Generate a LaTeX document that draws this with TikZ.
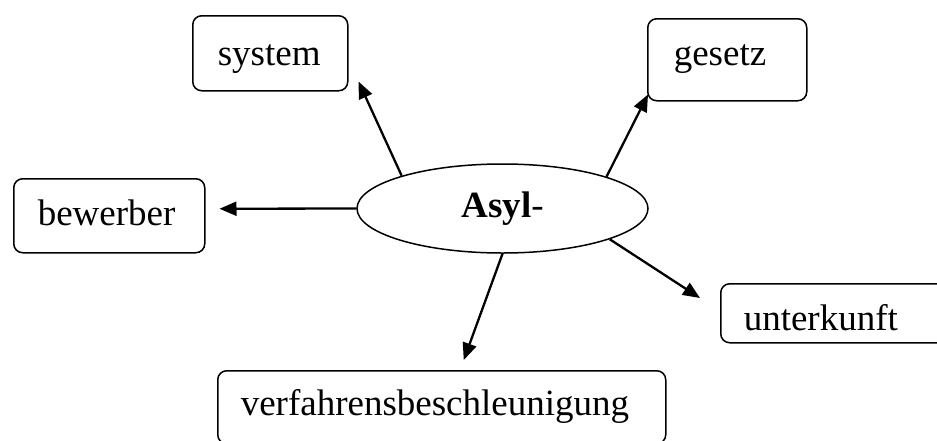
\documentclass[tikz,border=0pt]{standalone}
\usepackage{fontspec}
\setmainfont{Liberation Serif}
\usetikzlibrary{arrows.meta,shapes.geometric,calc}

\tikzset{
  word/.style={font=\fontsize{37}{40}\selectfont},
  termbox/.style={word, draw, line width=1.5pt, rounded corners=9pt,
    anchor=north west, align=left, inner ysep=0pt, inner xsep=#1},
  hub/.style={word, draw, ellipse, line width=1.5pt, inner sep=0pt,
    minimum width=291pt, minimum height=89pt},
  link/.style={line width=2.3pt, -{Triangle[length=17pt,width=14pt]}}
}

\begin{document}
\begin{tikzpicture}[x=1pt,y=-1pt]
  \useasboundingbox (0,0) rectangle (937,440);
  \clip (0,0) rectangle (937,440);
  \fill[white] (0,0) rectangle (937,440);

  % central term
  \node[hub] (asyl) at (502.5,208.5) {\textbf{Asyl}-};

  % compounds around it (text height = top edge to baseline)
  \node[termbox=25pt, text width=105pt, text height=50pt, text depth=25pt] (sys) at (192,15) {system};
  \node[termbox=26pt, text width=107pt, text height=47pt, text depth=35pt] (ges) at (647,18) {gesetz};
  \node[termbox=24pt, text width=143pt, text height=47pt, text depth=27pt] (bew) at (13,178) {bewerber};
  \node[termbox=23pt, text width=214pt, text height=47pt, text depth=12pt] (unt) at (720,283) {unterkunft};
  \node[termbox=23pt, text width=402pt, text height=45pt, text depth=28pt] (ver) at (217,370) {verfahrensbeschleunigung};

  % connectors from the hub
  \draw[link] (asyl.162.9) -- ($(sys.south east)+(10,-10)$);
  \draw[link] (asyl.17.1) -- ($(ges.south west)+(1,-7)$);
  \draw[link] (asyl.west) -- ($(bew.east)+(14,-7)$);
  \draw[link] (asyl.-16.8) -- ($(unt.north west)+(-20,15)$);
  \draw[link] (asyl.-90.8) -- ($(ver.north)+(22,-10)$);
\end{tikzpicture}
\end{document}
